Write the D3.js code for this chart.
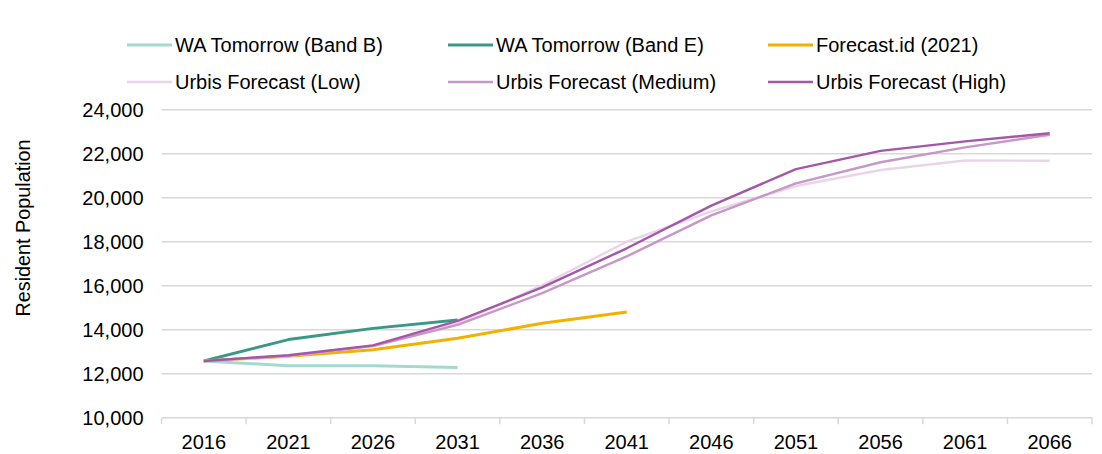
<!DOCTYPE html>
<html>
<head>
<meta charset="utf-8">
<script src="https://cdn.jsdelivr.net/npm/d3@7"></script>
<style>
  html, body { margin: 0; padding: 0; background: #fff; }
  svg { display: block; font-family: "Liberation Sans", Arial, sans-serif; }
</style>
</head>
<body>
<svg id="chart" width="1102" height="454"></svg>
<script>
const years = ["2016","2021","2026","2031","2036","2041","2046","2051","2056","2061","2066"];
const waBandB = [12580, 12360, 12360, 12280, null, null, null, null, null, null, null];
const waBandE = [12580, 13550, 14060, 14440, null, null, null, null, null, null, null];
const forecastId = [12580, 12790, 13090, 13610, 14290, 14800, null, null, null, null, null];
const urbisLow = [12580, 12800, 13280, 14300, 16020, 18000, 19380, 20530, 21260, 21690, 21680];
const urbisMedium = [12580, 12810, 13260, 14220, 15660, 17330, 19200, 20650, 21610, 22290, 22860];
const urbisHigh = [12580, 12840, 13290, 14400, 15920, 17700, 19640, 21300, 22130, 22560, 22930];
const yTicks = [10000, 12000, 14000, 16000, 18000, 20000, 22000, 24000];
const seriesNames = ["WA Tomorrow (Band B)", "WA Tomorrow (Band E)", "Forecast.id (2021)",
                     "Urbis Forecast (Low)", "Urbis Forecast (Medium)", "Urbis Forecast (High)"];

const series = [
  { name: seriesNames[0], values: waBandB, color: "#a3d9d0", width: 3 },
  { name: seriesNames[1], values: waBandE, color: "#3b9886", width: 3 },
  { name: seriesNames[2], values: forecastId, color: "#f2b100", width: 3 },
  { name: seriesNames[3], values: urbisLow, color: "#ead4ea", width: 2.4 },
  { name: seriesNames[4], values: urbisMedium, color: "#c797c8", width: 2.4 },
  { name: seriesNames[5], values: urbisHigh, color: "#a457a7", width: 2.4 }
];

const svg = d3.select("#chart");
const pLeft = 161.5, pRight = 1092, pTop = 109.7, pBottom = 417.7;
const fs = "20px";

const x = d3.scaleBand().domain(years).range([pLeft, pRight]).padding(0);
const y = d3.scaleLinear().domain([10000, 24000]).range([pBottom, pTop]);

// gridlines
svg.append("g").selectAll("line").data(yTicks.slice(1)).join("line")
  .attr("x1", pLeft).attr("x2", pRight)
  .attr("y1", d => y(d)).attr("y2", d => y(d))
  .attr("stroke", "#d9d9d9").attr("stroke-width", 1.5);

// y axis labels
const yAxis = d3.axisLeft(y).tickValues(yTicks).tickFormat(d3.format(",")).tickSize(0).tickPadding(0);
const yg = svg.append("g").attr("transform", `translate(${pLeft - 18},0)`).call(yAxis);
yg.select(".domain").remove();
yg.selectAll("text").attr("font-size", fs).attr("fill", "#000").attr("font-family", "Liberation Sans, Arial, sans-serif");

// x axis
const xAxis = d3.axisBottom(x).tickSize(0).tickPadding(0);
const xg = svg.append("g").attr("transform", `translate(0,${pBottom})`).call(xAxis);
xg.select(".domain").remove();
xg.selectAll("text").attr("font-size", fs).attr("fill", "#000").attr("dy", "0").attr("y", 31.5)
  .attr("font-family", "Liberation Sans, Arial, sans-serif");
// axis line and tick marks at category boundaries
const bounds = years.map(d => x(d)).concat([pRight]);
svg.append("line").attr("x1", pLeft).attr("x2", pRight).attr("y1", pBottom).attr("y2", pBottom)
  .attr("stroke", "#d9d9d9").attr("stroke-width", 1.5);
svg.append("g").selectAll("line").data(bounds).join("line")
  .attr("x1", d => d).attr("x2", d => d).attr("y1", pBottom).attr("y2", pBottom + 6.5)
  .attr("stroke", "#d9d9d9").attr("stroke-width", 1.5);

// y axis title
svg.append("text")
  .attr("transform", `translate(30,228) rotate(-90)`)
  .attr("text-anchor", "middle")
  .attr("font-size", "19.8px").attr("fill", "#000")
  .text("Resident Population");

// lines
const line = d3.line()
  .defined(d => d.v !== null)
  .x(d => x(d.year) + x.bandwidth() / 2)
  .y(d => y(d.v));

svg.append("g").selectAll("path").data(series).join("path")
  .attr("fill", "none")
  .attr("stroke", d => d.color)
  .attr("stroke-width", d => d.width)
  .attr("stroke-linejoin", "round")
  .attr("d", d => line(d.values.map((v, i) => ({ year: years[i], v }))));

// legend
const legendPos = [
  { lx: 127, ty: 45 }, { lx: 448, ty: 45 }, { lx: 768, ty: 45 },
  { lx: 127, ty: 82 }, { lx: 448, ty: 82 }, { lx: 768, ty: 82 }
];
const lg = svg.append("g").selectAll("g").data(series).join("g")
  .attr("transform", (d, i) => `translate(${legendPos[i].lx},${legendPos[i].ty})`);
lg.append("line").attr("x1", 0).attr("x2", 45).attr("y1", 0).attr("y2", 0)
  .attr("stroke", d => d.color).attr("stroke-width", d => d.width);
lg.append("text").attr("x", 48).attr("y", 0).attr("dy", "0.35em")
  .attr("font-size", fs).attr("fill", "#000").text(d => d.name);
</script>
</body>
</html>
